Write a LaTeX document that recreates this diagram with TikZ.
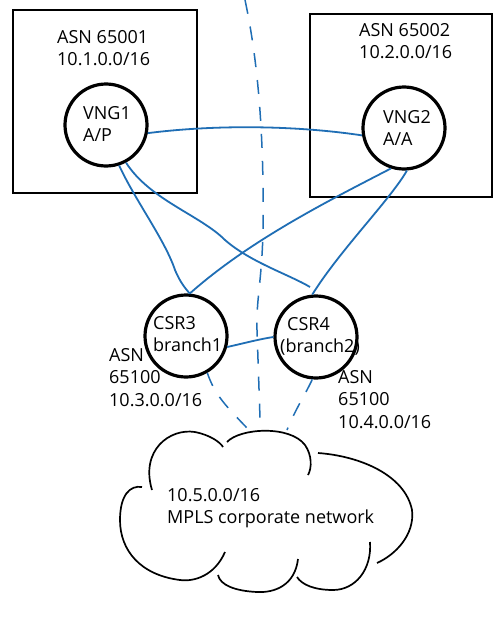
\documentclass[tikz,border=0pt]{standalone}
\usepackage{fontspec}
\setmainfont{Open Sans}
\definecolor{lineblue}{RGB}{31,110,181}
\begin{document}
\begin{tikzpicture}[x=1pt,y=-1pt,
  bl/.style={draw=lineblue, line width=1.8pt},
  bldash/.style={draw=lineblue, line width=1.5pt, dash pattern=on 14pt off 13pt},
  boxln/.style={draw=black, line width=2.6pt},
  gw/.style={circle, draw=black, line width=3.2pt, minimum size=82pt, inner sep=0pt},
  txt/.style={anchor=north west, inner sep=0pt, font=\fontsize{18}{22.5}\selectfont, align=left},
  cl/.style={draw=black, line width=1.7pt}]
\useasboundingbox (0,0) rectangle (501,621);
\fill[white] (0,0) rectangle (501,621);
% boxes
\draw[boxln] (13,10) rectangle (197,193);
\draw[boxln] (310,14) rectangle (492,197);
% vertical dashed line
\coordinate (vtop) at (245,0);
\coordinate (vbot) at (260,418);
\draw[bldash] (vtop) .. controls (260,70) and (264,150) .. (263,230) .. controls (262,280) and (256,300) .. (257,330) -- (vbot);
% circles
\node[gw] (v1) at (106,125) {};
\node[gw] (v2) at (404,128) {};
\node[gw] (c3) at (186,336) {};
\node[gw] (c4) at (316,337) {};
% circle texts
\node[txt] (t1) at (83,106) {VNG1\\A/P};
\node[txt] (t2) at (383,110) {VNG2\\A/A};
\node[txt] (t3) at (153,316) {CSR3\\branch1};
\node[txt] (t4) at (280,317) {\hspace{7pt}CSR4\\(branch2)};
% box texts
\node[txt] (a1) at (57,30) {ASN 65001\\10.1.0.0/16};
\node[txt] (a2) at (359,23) {ASN 65002\\10.2.0.0/16};
\node[txt] (a3) at (109,348) {ASN\\65100\\10.3.0.0/16};
\node[txt] (a4) at (338,370) {ASN\\65100\\10.4.0.0/16};
% cloud
\draw[cl] (152,490) .. controls (140,450) and (170,428) .. (195,432) .. controls (210,435) and (220,442) .. (223,447);
\draw[cl] (227,442) .. controls (240,428) and (290,425) .. (305,445) .. controls (312,455) and (312,468) .. (308,475);
\draw[cl] (318,453) .. controls (360,456) and (405,475) .. (412,510) .. controls (415,535) and (395,555) .. (377,563);
\draw[cl] (370,542) .. controls (372,570) and (355,590) .. (333,590) .. controls (315,590) and (302,585) .. (297,577);
\draw[cl] (298,559) .. controls (295,585) and (275,593) .. (257,592) .. controls (235,591) and (220,585) .. (218,575);
\draw[cl] (225,552) .. controls (215,575) and (195,582) .. (180,580) .. controls (140,575) and (120,550) .. (120,520) .. controls (120,495) and (130,485) .. (142,487);
\node[txt] (ct) at (167,488) {10.5.0.0/16\\MPLS corporate network};
\coordinate (k1) at (247,428);
\coordinate (k2) at (287,430);
% connectors
\draw[bl] (v1.-11) .. controls (220,124) and (300,126) .. (v2.190);
\draw[bl] (v1.-72) .. controls (135,200) and (165,240) .. (175,270) .. controls (180,282) and (185,288) .. (c3.85);
\draw[bl] (v1.-62) .. controls (150,200) and (200,215) .. (225,240) .. controls (250,262) and (290,275) .. (310,287);
\draw[bl] (v2.-108) .. controls (330,200) and (250,240) .. (c3.85);
\draw[bl] (v2.-86) .. controls (390,200) and (340,250) .. (c4.95);
\draw[bl] (c3.-15) .. controls (245,343) and (260,339) .. (c4.180);
\draw[bldash] (c3.-60) .. controls (215,395) and (225,405) .. (k1);
\draw[bldash] (c4.-95) .. controls (305,395) and (295,410) .. (k2);
\end{tikzpicture}
\end{document}
